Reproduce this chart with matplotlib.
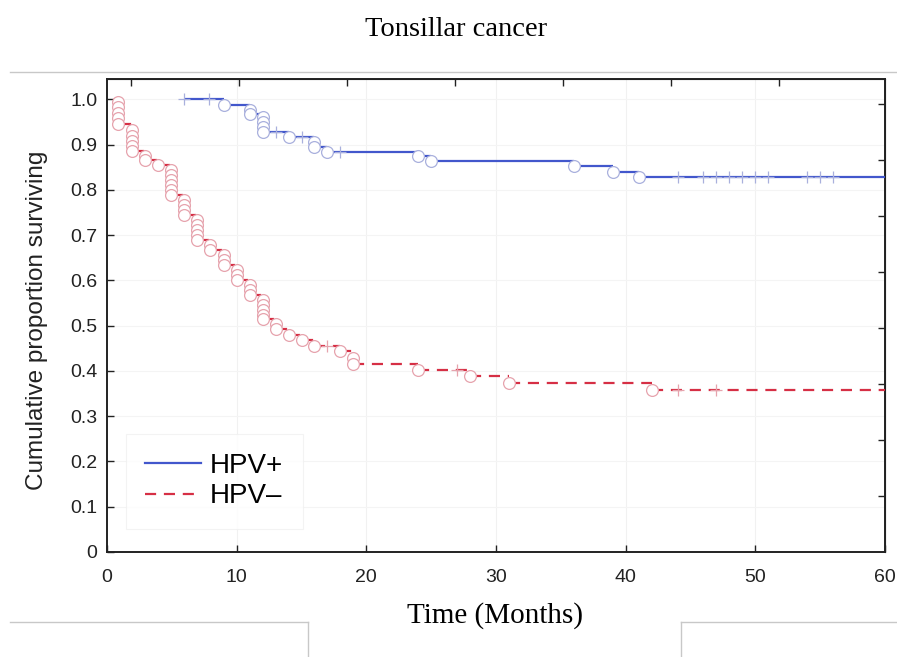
import matplotlib
matplotlib.use("Agg")
import matplotlib.pyplot as plt
from matplotlib.lines import Line2D

# ---------------- data ----------------
title = "Tonsillar cancer"
xlabel = "Time (Months)"
ylabel = "Cumulative proportion surviving"
labels = ["HPV+", "HPV\u2013"]

x_ticks = [0, 10, 20, 30, 40, 50, 60]
y_ticks = [0, 0.1, 0.2, 0.3, 0.4, 0.5, 0.6, 0.7, 0.8, 0.9, 1.0]
y_ticklabels = ["0", "0.1", "0.2", "0.3", "0.4", "0.5", "0.6", "0.7", "0.8", "0.9", "1.0"]
top_ticks = [1.85, 10.2, 18.5, 26.85, 35.2, 43.5, 51.8]
right_ticks = [0.124, 0.247, 0.371, 0.494, 0.618, 0.742, 0.865, 0.989]

# HPV+ : step start times and survival level from that time on
pos_step_t = [5.9, 9, 11, 12, 14, 16, 17, 24, 25, 36, 39, 41, 60]
pos_step_s = [1.0, 0.988, 0.967, 0.928, 0.917, 0.895, 0.884, 0.874, 0.863, 0.852, 0.840, 0.829, 0.829]
pos_event_t = [9, 11, 11, 12, 12, 12, 12, 14, 16, 16, 17, 24, 25, 36, 39, 41]
pos_event_s = [0.988, 0.977, 0.967, 0.960, 0.950, 0.939, 0.928, 0.917, 0.906, 0.895,
               0.884, 0.874, 0.863, 0.852, 0.840, 0.829]
pos_cens_t = [5.9, 7.9, 13, 15, 18, 44, 46, 47, 48, 49, 50, 51, 54, 55, 56]
pos_cens_s = [1.0, 1.0, 0.928, 0.917, 0.884, 0.829, 0.829, 0.829, 0.829, 0.829,
              0.829, 0.829, 0.829, 0.829, 0.829]

# HPV- : step start times and survival level from that time on
neg_step_t = [0.8, 1, 2, 3, 4, 5, 6, 7, 8, 9, 10, 11, 12, 13, 14, 15, 16, 18, 19, 24, 28, 31, 42, 60]
neg_step_s = [1.0, 0.946, 0.885, 0.865, 0.856, 0.789, 0.745, 0.690, 0.667, 0.634, 0.601, 0.568,
              0.514, 0.492, 0.480, 0.468, 0.456, 0.443, 0.415, 0.402, 0.388, 0.373, 0.358, 0.358]
neg_event_t = [0.85, 0.85, 0.85, 0.85, 0.85,
               1.9, 1.9, 1.9, 1.9, 1.9,
               2.9, 2.9,
               3.95,
               4.95, 4.95, 4.95, 4.95, 4.95, 4.95,
               5.95, 5.95, 5.95, 5.95,
               6.95, 6.95, 6.95, 6.95, 6.95,
               7.95, 7.95,
               9, 9, 9,
               10, 10, 10,
               11, 11, 11,
               12, 12, 12, 12, 12,
               13, 13,
               14, 15, 16, 18, 19, 19, 24, 28, 31, 42]
neg_event_s = [0.995, 0.983, 0.970, 0.958, 0.946,
               0.932, 0.920, 0.908, 0.896, 0.885,
               0.874, 0.865,
               0.856,
               0.845, 0.833, 0.822, 0.811, 0.800, 0.789,
               0.778, 0.767, 0.756, 0.745,
               0.734, 0.723, 0.712, 0.701, 0.690,
               0.678, 0.667,
               0.656, 0.645, 0.634,
               0.623, 0.612, 0.601,
               0.590, 0.579, 0.568,
               0.557, 0.546, 0.535, 0.524, 0.514,
               0.503, 0.492,
               0.480, 0.468, 0.456, 0.443, 0.429, 0.415, 0.402, 0.388, 0.373, 0.358]
neg_cens_t = [17, 27, 44, 47]
neg_cens_s = [0.456, 0.402, 0.358, 0.358]

# ---------------- styling ----------------
W, H = 897, 657
fig = plt.figure(figsize=(W / 100, H / 100), dpi=100)
ax = fig.add_axes([107 / W, 1 - 552 / H, (885 - 107) / W, (552 - 79) / H])

sans = ["Liberation Sans", "DejaVu Sans"]
serif = ["Liberation Serif", "DejaVu Serif"]

blue = "#4257cc"
red = "#d62f45"
blue_c = "#a9b0dd"
red_c = "#e6a3ad"

ax.set_xlim(0, 60)
ax.set_ylim(0, 1.045)

# faint grid
for xv in x_ticks[1:-1]:
    ax.axvline(xv, color="#f1f1f1", lw=0.8, zorder=0)
for yv in y_ticks[1:]:
    ax.axhline(yv, color="#f4f4f4", lw=0.8, zorder=0)

# HPV+ horizontal segments
ax.hlines(pos_step_s[:-1], pos_step_t[:-1], pos_step_t[1:], colors=blue, lw=1.6, zorder=3)
# HPV- horizontal segments (dashed)
ax.hlines(neg_step_s[:-1], neg_step_t[:-1], neg_step_t[1:], colors=red, lw=1.6,
          linestyles=(0, (5, 3.5)), zorder=3)

# event circles
ax.plot(pos_event_t, pos_event_s, ls="none", marker="o", ms=8.5, mfc="white",
        mec=blue_c, mew=0.9, zorder=4)
ax.plot(neg_event_t, neg_event_s, ls="none", marker="o", ms=8.5, mfc="white",
        mec=red_c, mew=0.9, zorder=4)
# censor marks
ax.plot(pos_cens_t, pos_cens_s, ls="none", marker="+", ms=9, mec=blue_c, mew=0.9, zorder=4)
ax.plot(neg_cens_t, neg_cens_s, ls="none", marker="+", ms=9, mec=red_c, mew=0.9, zorder=4)

# ticks
ax.set_xticks(x_ticks)
ax.set_xticklabels([str(v) for v in x_ticks], fontfamily=sans, fontsize=14)
ax.set_yticks(y_ticks)
ax.set_yticklabels(y_ticklabels, fontfamily=sans, fontsize=14)
ax.tick_params(direction="in", length=5, width=1.0, colors="#222222")
ax.tick_params(axis="x", pad=12)
ax.tick_params(axis="y", pad=7)
for s in ax.spines.values():
    s.set_linewidth(1.4)
    s.set_color("#222222")

top = ax.secondary_xaxis("top")
top.set_xticks(top_ticks)
top.set_xticklabels([])
top.tick_params(direction="in", length=5, width=1.0, colors="#222222")
right = ax.secondary_yaxis("right")
right.set_yticks(right_ticks)
right.set_yticklabels([])
right.tick_params(direction="in", length=5, width=1.0, colors="#222222")

ax.set_ylabel(ylabel, fontfamily=sans, fontsize=17.5, color="#222222")
ax.yaxis.set_label_coords(-(107 - 48) / (885 - 107), (552 - 320) / (552 - 79))

# legend
handles = [Line2D([], [], color=blue, lw=1.6),
           Line2D([], [], color=red, lw=1.6, ls=(0, (5, 3.5)))]
leg = ax.legend(handles, labels, loc="upper left", bbox_to_anchor=(0.024, 0.25),
                prop={"family": sans, "size": 20}, handlelength=2.0, handletextpad=0.33,
                labelspacing=0.15, frameon=True, fancybox=False, edgecolor="#f0f0f0",
                borderpad=0.7, borderaxespad=0)
leg.get_frame().set_linewidth(0.8)

# titles
fig.text(456 / W, 1 - 29 / H, title, ha="center", va="center", fontfamily=serif, fontsize=20.5)
fig.text(495 / W, 1 - 616 / H, xlabel, ha="center", va="center", fontfamily=serif, fontsize=21)

# page/table border lines from the document
gray = "#c8c8c8"
fig.add_artist(Line2D([10 / W, 1], [1 - 72 / H, 1 - 72 / H], color=gray, lw=1.0))
fig.add_artist(Line2D([10 / W, 308 / W], [1 - 622 / H, 1 - 622 / H], color=gray, lw=1.0))
fig.add_artist(Line2D([308 / W, 308 / W], [1 - 622 / H, 0], color=gray, lw=1.0))
fig.add_artist(Line2D([681 / W, 1], [1 - 622 / H, 1 - 622 / H], color=gray, lw=1.0))
fig.add_artist(Line2D([681 / W, 681 / W], [1 - 622 / H, 0], color=gray, lw=1.0))

fig.savefig("out.png", dpi=100)
